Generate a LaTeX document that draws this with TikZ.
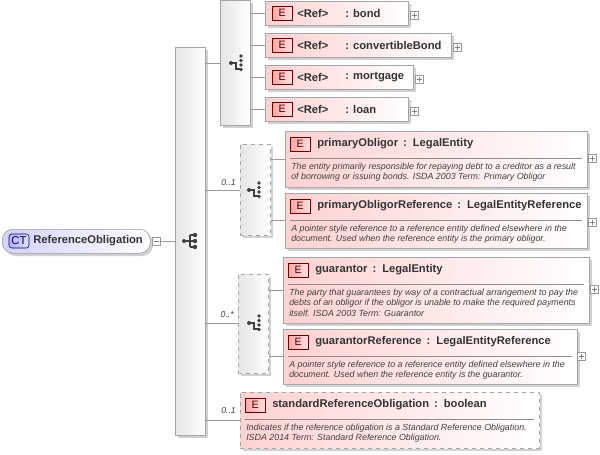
\documentclass[tikz,border=0pt]{standalone}
\usepackage{fontspec}
\setmainfont{Liberation Sans}
\begin{document}
\begin{tikzpicture}[x=0.75pt,y=-0.75pt,
  ebox/.style={draw=black!35,left color=red!18,right color=white,rectangle,inner sep=0,anchor=north west},
  dbox/.style={ebox,dashed},
  seqbox/.style={draw=black!35,left color=black!10,right color=white,rectangle,inner sep=0,anchor=north west},
  dseq/.style={seqbox,dashed},
  badge/.style={draw=red!45!black,left color=red!35,right color=red!12,rectangle,minimum width=15pt,minimum height=10.5pt,inner sep=0,font=\fontsize{8pt}{8pt}\selectfont,text=red!30!black,anchor=west},
  ttl/.style={font=\bfseries\fontsize{8.4pt}{10pt}\selectfont,text=black!80,anchor=west,inner sep=0},
  dsc/.style={font=\itshape\fontsize{6.65pt}{7.7pt}\selectfont,text=black!75,anchor=north west,inner sep=0,align=left},
  plus/.style={draw=black!40,fill=white,minimum size=6pt,inner sep=0,rectangle},
  mult/.style={font=\itshape\fontsize{6.5pt}{7pt}\selectfont,text=black!75,anchor=south east,inner sep=0},
  ln/.style={draw=black!40},
  ic/.style={black!75,line width=1pt}]
\useasboundingbox (0,0) rectangle (600,454);
\newcommand{\seqicon}[2]{%
  \draw[ic] (#1-6,#2)--(#1,#2) (#1,#2-6)--(#1,#2+6) (#1,#2-6)--(#1+5,#2-6) (#1,#2)--(#1+5,#2) (#1,#2+6)--(#1+5,#2+6);
  \fill[black!75] (#1-6,#2) circle (2) (#1+5,#2-6) circle (2.2) (#1+5,#2) circle (2.2) (#1+5,#2+6) circle (2.2);}
\newcommand{\choiceicon}[2]{%
  \draw[ic] (#1-6,#2)--(#1-1,#2)--(#1-1,#2+6)--(#1+4,#2+6);
  \fill[black!75] (#1-6,#2) circle (2) (#1+4,#2-7) circle (1.9) (#1+4,#2-2.5) circle (1.9) (#1+4,#2+2) circle (1.9) (#1+4,#2+6.5) circle (1.9);}
\newcommand{\plusbox}[3]{\node[plus] (#1) at (#2,#3) {}; \draw[black!50] (#2-2.5,#3)--(#2+2.5,#3) (#2,#3-2.5)--(#2,#3+2.5);}
% CT
\fill[black!18,rounded corners=8pt] (5,232) rectangle (153,256);
\node[draw=black!40,left color=blue!18,right color=white,rounded corners=8pt,minimum width=111pt,minimum height=18pt,anchor=north west,inner sep=0] (ct) at (2,229) {};
\node[draw=blue!40!black,left color=blue!30,right color=blue!12,rounded corners=2pt,minimum width=15pt,minimum height=10.5pt,inner sep=0,font=\fontsize{8.5pt}{9pt}\selectfont,text=blue!30!black] (ctb) at (19,241) {CT};
\node[ttl] (ctt) at (33,241) {ReferenceObligation};
\node[plus] (ctm) at (156,241) {}; \draw[black!50] (153.5,241)--(158.5,241);
% main sequence
\fill[black!18] (178,50) rectangle (208,438);
\node[seqbox,minimum width=22.5pt,minimum height=291pt] (seq) at (175,47) {};
\seqicon{190}{241}
\draw[ln] (ctm.east) -- (seq.west |- ctm.east);
% choice 1
\fill[black!18] (223,3) rectangle (253,128);
\node[seqbox,minimum width=22.5pt,minimum height=93.75pt] (ch1) at (220,0) {};
\choiceicon{237}{63}
\draw[ln] (seq.east |- 0,63) -- (ch1.west |- 0,63);
\foreach \nm/\w/\y/\lab in {r1/143/1/bond, r2/186/33/convertibleBond, r3/148/65/mortgage, r4/143/97/loan}{
  \fill[black!18] (268,\y+3) rectangle (265+\w+3,\y+27);
  \node[ebox,minimum width=\w*0.75pt,minimum height=18pt] (\nm) at (265,\y) {};
  \node[badge] at (272,\y+12) {E};
  \node[ttl] at (297,\y+12) {<Ref>};
  \node[ttl] at (345,\y+12) {: \lab};
  \draw[ln] (ch1.east |- \nm.west) -- (\nm.west);
  \plusbox{p\nm}{265+\w+6}{\y+14}
}
% choice 2
\fill[black!18] (243,147) rectangle (273,238);
\node[dseq,minimum width=22.5pt,minimum height=68.25pt] (ch2) at (240,144) {};
\choiceicon{255}{190}
\draw[ln] (seq.east |- 0,190) -- (ch2.west |- 0,190);
\node[mult] at (236,186) {0..1};
% choice 3
\fill[black!18] (241,277) rectangle (271,376);
\node[dseq,minimum width=22.5pt,minimum height=74.25pt] (ch3) at (238,274) {};
\choiceicon{255}{323}
\draw[ln] (seq.east |- 0,323) -- (ch3.west |- 0,323);
\node[mult] at (234,318) {0..*};
\newcommand{\elem}[8]{%
  \fill[black!18] (#2+3,#3+3) rectangle (#2+#4+3,#3+#5+3);
  \node[#6,minimum width=#4*0.75pt,minimum height=#5*0.75pt] (#1) at (#2,#3) {};
  \node[badge] at (#2+5,#3+13) {E};
  \node[ttl] at (#2+32,#3+13) {#7};
  \draw[black!45] (#2+5,#3+27) -- (#2+#4-5,#3+27);
  \node[dsc] at (#2+6,#3+32) {#8};}
\elem{po}{285}{131}{302}{56}{ebox}{primaryObligor \,:\, LegalEntity}{The entity primarily responsible for repaying debt to a creditor as a result\\of borrowing or issuing bonds. ISDA 2003 Term: Primary Obligor}
\elem{por}{285}{193}{302}{55}{ebox}{primaryObligorReference \,:\, LegalEntityReference}{A pointer style reference to a reference entity defined elsewhere in the\\document. Used when the reference entity is the primary obligor.}
\elem{gu}{283}{257}{306}{66}{ebox}{guarantor \,:\, LegalEntity}{The party that guarantees by way of a contractual arrangement to pay the\\debts of an obligor if the obligor is unable to make the required payments\\itself. ISDA 2003 Term: Guarantor}
\elem{gur}{283}{329}{294}{55}{ebox}{guarantorReference \,:\, LegalEntityReference}{A pointer style reference to a reference entity defined elsewhere in the\\document. Used when the reference entity is the guarantor.}
\elem{sro}{240}{392}{299}{56}{dbox}{standardReferenceObligation \,:\, boolean}{Indicates if the reference obligation is a Standard Reference Obligation.\\ISDA 2014 Term: Standard Reference Obligation.}
\draw[ln] (ch2.east |- 0,159) -- (po.west |- 0,159);
\draw[ln] (ch2.east |- 0,220) -- (por.west |- 0,220);
\draw[ln] (ch3.east |- 0,290) -- (gu.west |- 0,290);
\draw[ln] (ch3.east |- 0,356) -- (gur.west |- 0,356);
\draw[ln] (seq.east |- 0,420) -- (sro.west |- 0,420);
\node[mult] at (236,414) {0..1};
\plusbox{ppo}{592}{158}
\plusbox{ppor}{592}{222}
\plusbox{pgu}{594}{289}
\plusbox{pgur}{581}{356}
\end{tikzpicture}
\end{document}
